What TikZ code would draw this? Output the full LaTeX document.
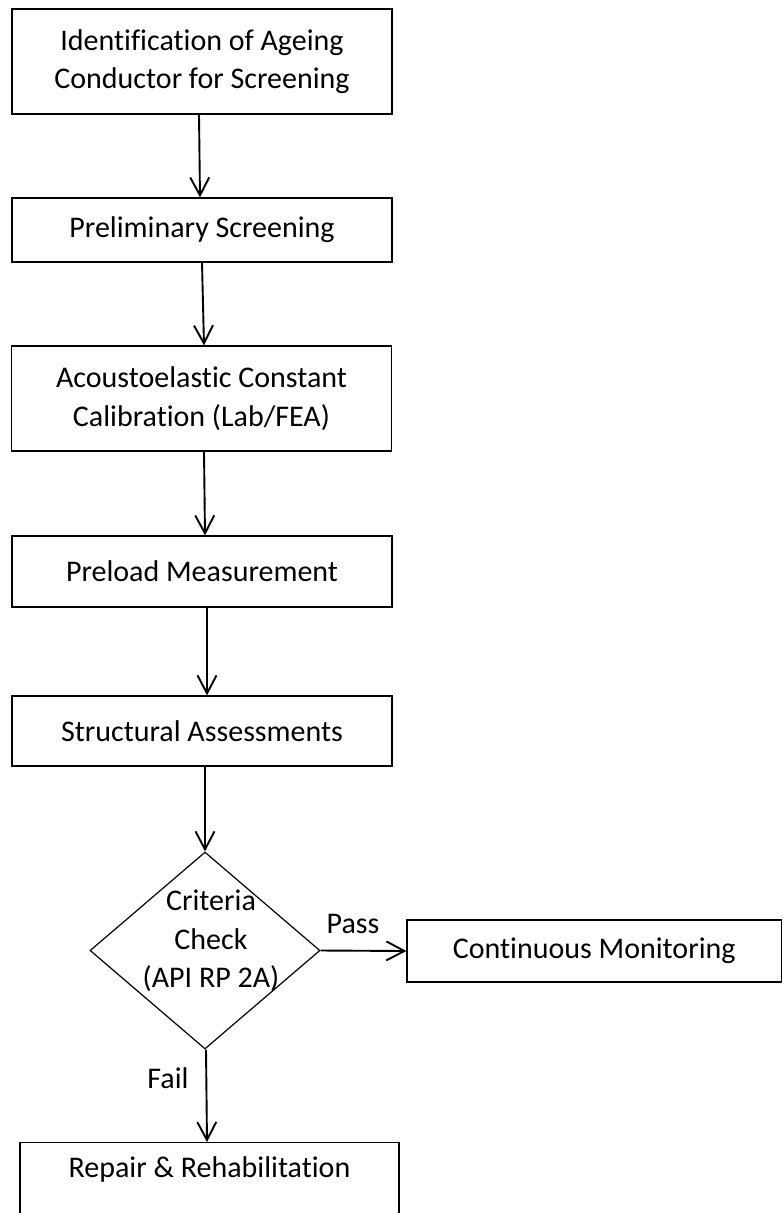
\documentclass[tikz,border=0pt]{standalone}
\usepackage{fontspec}
\setmainfont{Carlito}[Ligatures=NoCommon]
\usetikzlibrary{shapes.geometric,arrows.meta}

\begin{document}
\begin{tikzpicture}[x=1pt,y=-1pt,
  font=\fontsize{30}{38.5}\selectfont,
  stepbox/.style={draw=black, line width=1.2pt, rectangle, inner sep=0pt,
    minimum width=380pt, align=center},
  decision/.style={draw=black, line width=1.2pt, diamond, inner sep=0pt,
    minimum width=230pt, minimum height=197pt},
  flow/.style={draw=black, line width=1.9pt,
    -{Straight Barb[length=18pt,width=19pt,line width=1.9pt]}},
  tag/.style={inner sep=0pt, anchor=base}]

  \useasboundingbox (0,0) rectangle (783,1213);
  \clip (0,0) rectangle (783,1213);

  % process steps
  \node[stepbox, minimum height=105pt] (ident) at (202,61.5)
    {Identification of Ageing\\Conductor for Screening};
  \node[stepbox, minimum height=64pt] (prelim) at (202,230)
    {Preliminary Screening};
  \node[stepbox, minimum height=105pt] (calib) at (201.5,398.5)
    {Acoustoelastic Constant\\Calibration (Lab/FEA)};
  \node[stepbox, minimum height=71pt] (preload) at (202,571.5)
    {Preload Measurement};
  \node[stepbox, minimum height=70pt] (assess) at (202,731)
    {Structural Assessments};

  % decision
  \node[decision] (check) at (205,950.5) {};
  \node[align=center, inner sep=0pt] (checktext) at (211,941)
    {Criteria\\Check\\(API RP 2A)};

  % outcomes
  \node[stepbox, minimum width=374.5pt, minimum height=62pt] (monitor) at (594.25,951)
    {Continuous Monitoring};
  \node[stepbox, minimum width=379pt, minimum height=90pt, anchor=north] (repair) at (209.5,1142) {};
  \node[tag] (repairtext) at (209.5,1177) {Repair \& Rehabilitation};

  % connectors
  \draw[flow] ([xshift=-3pt]ident.south) -- ([xshift=-2pt]prelim.north);
  \draw[flow] (prelim.south) -- ([xshift=2.5pt]calib.north);
  \draw[flow] ([xshift=2.5pt]calib.south) -- ([xshift=3pt]preload.north);
  \draw[flow] ([xshift=5pt]preload.south) -- ([xshift=5pt]assess.north);
  \draw[flow] ([xshift=3pt]assess.south) -- (check.north);
  \draw[flow] (check.east) -- (monitor.west);
  \draw[flow] ([xshift=1pt]check.south) -- ([xshift=-2.5pt]repair.north);

  % branch labels
  \node[tag] (passlbl) at (353,933) {Pass};
  \node[tag] (faillbl) at (168,1088) {Fail};
\end{tikzpicture}
\end{document}
